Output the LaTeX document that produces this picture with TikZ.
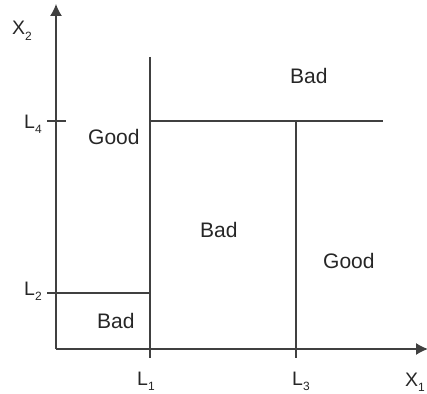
\documentclass[tikz,border=0pt]{standalone}
\usepackage{fontspec}
\setmainfont{Liberation Sans}
\usetikzlibrary{arrows.meta}
\newcommand{\Lsub}[2]{#1\raisebox{-0.3em}{\fontsize{12}{12}\selectfont #2}}
\begin{document}
\begin{tikzpicture}[x=1pt,y=-1pt,
  ln/.style={line width=1.3pt,draw=black!75},
  ax/.style={ln,-{Latex[length=12pt,width=12pt]}},
  lbl/.style={inner sep=0pt,anchor=base west,font=\fontsize{21}{24}\selectfont,text=black!85},
  tk/.style={inner sep=0pt,anchor=base west,font=\fontsize{19.5}{22}\selectfont,text=black!85}]
\useasboundingbox (0,0) rectangle (427,393);
% axes
\coordinate (O) at (56,349);
\coordinate (Ytop) at (56,4);
\coordinate (Xend) at (428,349);
\draw[ax] (O) -- (Ytop);
\draw[ax] (O) -- (Xend);
% L1 vertical
\coordinate (L1t) at (150,57);
\coordinate (L1b) at (150,358);
\draw[ln] (L1t) -- (L1b);
% L2 horizontal
\coordinate (L2a) at (47,293);
\coordinate (L2b) at (150,293);
\draw[ln] (L2a) -- (L2b);
% L4 tick and line
\coordinate (L4a) at (47,121);
\coordinate (L4b) at (66,121);
\draw[ln] (L4a) -- (L4b);
\coordinate (L4c) at (150,121);
\coordinate (L4d) at (383,121);
\draw[ln] (L4c) -- (L4d);
% L3 vertical
\coordinate (L3t) at (296,121);
\coordinate (L3b) at (296,358);
\draw[ln] (L3t) -- (L3b);
% axis labels
\node[tk] (x2) at (12,35) {\Lsub{X}{2}};
\node[tk] (l4) at (24,128) {\Lsub{L}{4}};
\node[tk] (l2) at (24,295) {\Lsub{L}{2}};
\node[tk] (l1) at (137,385) {\Lsub{L}{1}};
\node[tk] (l3) at (292,385) {\Lsub{L}{3}};
\node[tk] (x1) at (405,386) {\Lsub{X}{1}};
% region labels
\node[lbl] (g1) at (88,144) {Good};
\node[lbl] (b1) at (290,84) {Bad};
\node[lbl] (b2) at (200,237) {Bad};
\node[lbl] (g2) at (323,268) {Good};
\node[lbl] (b3) at (97,328) {Bad};
\end{tikzpicture}
\end{document}
